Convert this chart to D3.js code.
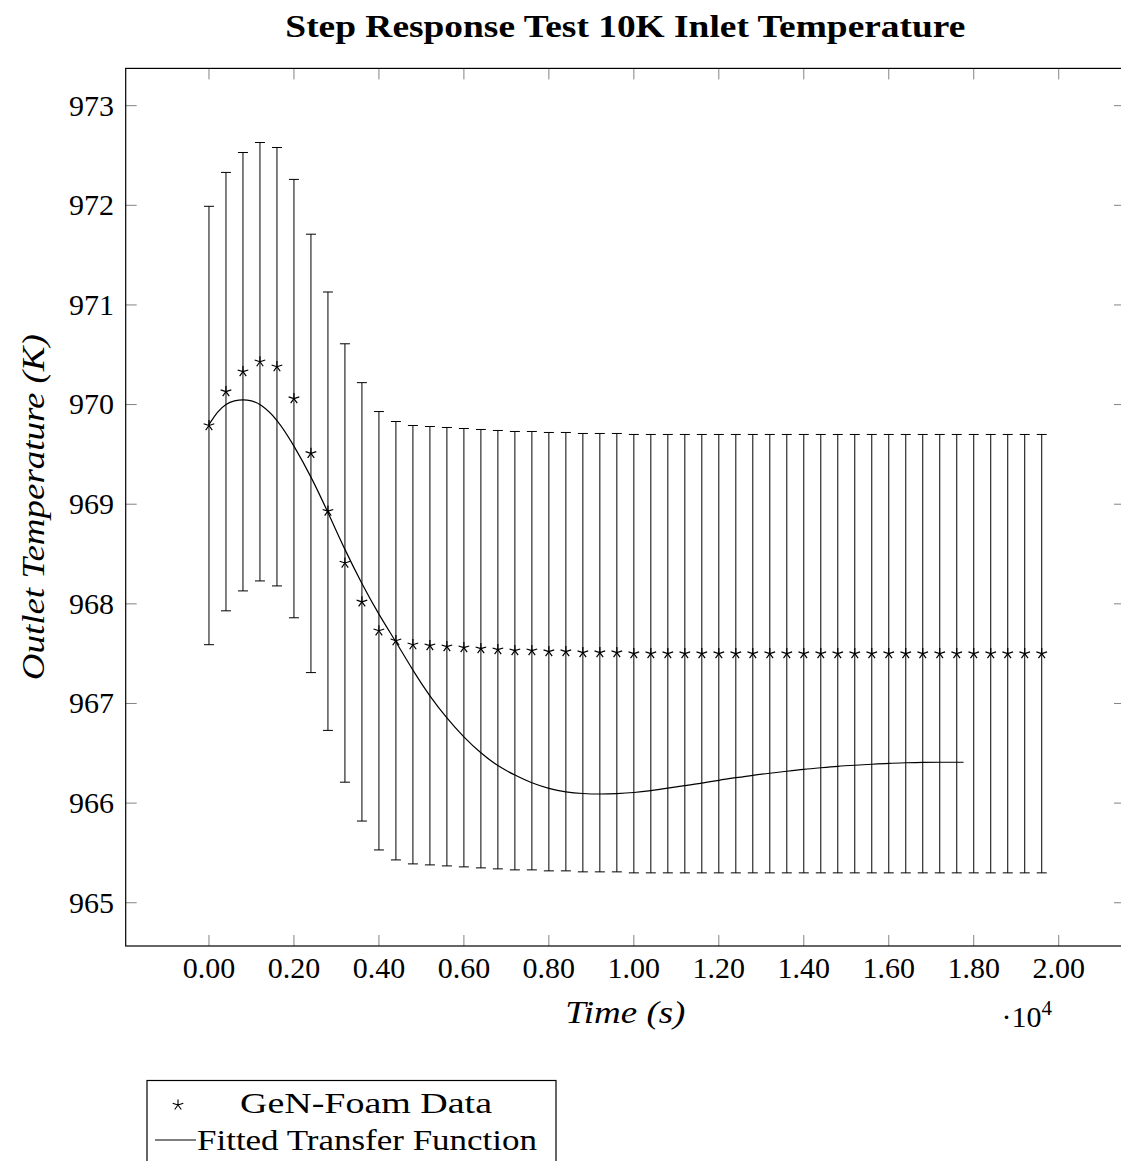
<!DOCTYPE html>
<html>
<head>
<meta charset="utf-8">
<script src="https://cdn.jsdelivr.net/npm/d3@7"></script>
<style>
  html, body { margin: 0; padding: 0; background: #fff; }
  svg { display: block; }
  text { font-family: "Liberation Serif", "DejaVu Serif", serif; fill: #000; }
</style>
</head>
<body>
<svg id="chart" width="1121" height="1161"></svg>
<script>
// Simulation output (time in seconds, outlet temperature in K)
const dataTimes = [0, 400, 800, 1200, 1600, 2000, 2400, 2800, 3200, 3600,
  4000, 4400, 4800, 5200, 5600, 6000, 6400, 6800, 7200, 7600,
  8000, 8400, 8800, 9200, 9600, 10000, 10400, 10800, 11200, 11600,
  12000, 12400, 12800, 13200, 13600, 14000, 14400, 14800, 15200, 15600,
  16000, 16400, 16800, 17200, 17600, 18000, 18400, 18800, 19200, 19600];
const dataTemps = [969.79, 970.13, 970.33, 970.43, 970.38, 970.06, 969.51, 968.93, 968.41, 968.02,
  967.73, 967.63, 967.59, 967.58, 967.57, 967.56, 967.55, 967.54, 967.53, 967.53,
  967.52, 967.52, 967.51, 967.51, 967.51, 967.50, 967.50, 967.50, 967.50, 967.50,
  967.50, 967.50, 967.50, 967.50, 967.50, 967.50, 967.50, 967.50, 967.50, 967.50,
  967.50, 967.50, 967.50, 967.50, 967.50, 967.50, 967.50, 967.50, 967.50, 967.50];
// Symmetric uncertainty of every data point (K)
const dataError = 2.2;

// Fitted transfer function response
const fitTimes = [0, 200, 400, 600, 800, 1000, 1200, 1600, 2000, 2400, 2800, 3200, 3600,
  4000, 4400, 4800, 5200, 5600, 6000, 6400, 6800, 7200, 7600,
  8000, 8400, 8800, 9200, 9600, 10000, 10400, 10800, 11200, 11600,
  12000, 12400, 12800, 13200, 13600, 14000, 14400, 14800, 15200, 15600,
  16000, 16400, 16800, 17200, 17600, 17760];
const fitTemps = [969.80, 969.93, 970.01, 970.04, 970.05, 970.04, 970.01, 969.86, 969.59, 969.28, 968.92, 968.54, 968.20,
  967.89, 967.62, 967.33, 967.07, 966.85, 966.66, 966.50, 966.37, 966.28, 966.20,
  966.145, 966.11, 966.095, 966.09, 966.095, 966.105, 966.125, 966.15, 966.175, 966.20,
  966.23, 966.255, 966.28, 966.30, 966.32, 966.34, 966.355, 966.37, 966.38, 966.39,
  966.40, 966.405, 966.41, 966.41, 966.41, 966.41];

const xTickValues = [0, 2000, 4000, 6000, 8000, 10000, 12000, 14000, 16000, 18000, 20000];
const yTickValues = [965, 966, 967, 968, 969, 970, 971, 972, 973];

const titleText = "Step Response Test 10K Inlet Temperature";
const xLabelText = "Time (s)";
const yLabelText = "Outlet Temperature (K)";
const legendLabels = ["GeN-Foam Data", "Fitted Transfer Function"];

const svg = d3.select("#chart");

const plot = { left: 125.7, right: 1125, top: 68.4, bottom: 946 };

const x = d3.scaleLinear().domain([-1960, 21560]).range([plot.left, plot.right]);
const y = d3.scaleLinear().domain([964.566, 973.374]).range([plot.bottom, plot.top]);

const tickLen = 11;
const fmtX = d => (d / 1e4).toFixed(2);

// Widen a text run to a given length (the serif face here is narrower than the design font)
function widen(sel, w) {
  return sel.attr("textLength", w).attr("lengthAdjust", "spacingAndGlyphs");
}

// Five-armed star marker
function starPath(r) {
  const angles = [90, 162, 234, 306, 18];
  return angles.map(a => {
    const t = a * Math.PI / 180;
    return `M0,0L${(r * Math.cos(t)).toFixed(3)},${(-r * Math.sin(t)).toFixed(3)}`;
  }).join("");
}

// Ticks (inward, mirrored on opposite sides)
const ticks = svg.append("g").attr("stroke", "#000").attr("stroke-width", 0.9).attr("stroke-opacity", 0.55);
xTickValues.forEach(v => {
  const px = x(v);
  ticks.append("line").attr("x1", px).attr("x2", px).attr("y1", plot.bottom).attr("y2", plot.bottom - tickLen);
  ticks.append("line").attr("x1", px).attr("x2", px).attr("y1", plot.top).attr("y2", plot.top + tickLen);
});
yTickValues.forEach(v => {
  const py = y(v);
  ticks.append("line").attr("x1", plot.left).attr("x2", plot.left + tickLen).attr("y1", py).attr("y2", py);
  ticks.append("line").attr("x1", plot.right).attr("x2", plot.right - tickLen).attr("y1", py).attr("y2", py);
});

// Tick labels
svg.append("g").selectAll("text").data(xTickValues).join("text")
  .attr("x", d => x(d)).attr("y", 978)
  .attr("text-anchor", "middle").attr("font-size", 30)
  .text(fmtX);
svg.append("g").selectAll("text").data(yTickValues).join("text")
  .attr("x", 114).attr("y", d => y(d)).attr("dy", "0.33em")
  .attr("text-anchor", "end").attr("font-size", 30)
  .text(d => d);

// Error bars
const pts = dataTimes.map((t, i) => ({ t, v: dataTemps[i] }));
const eb = svg.append("g").attr("stroke", "#000").attr("stroke-width", 1);
pts.forEach(p => {
  const px = x(p.t), y0 = y(p.v - dataError), y1 = y(p.v + dataError);
  eb.append("line").attr("x1", px).attr("x2", px).attr("y1", y0).attr("y2", y1);
  eb.append("line").attr("x1", px - 5).attr("x2", px + 5).attr("y1", y0).attr("y2", y0);
  eb.append("line").attr("x1", px - 5).attr("x2", px + 5).attr("y1", y1).attr("y2", y1);
});

// Fitted curve
const line = d3.line().x(d => x(d[0])).y(d => y(d[1])).curve(d3.curveBasis);
svg.append("path")
  .datum(fitTimes.map((t, i) => [t, fitTemps[i]]))
  .attr("d", line)
  .attr("fill", "none").attr("stroke", "#000").attr("stroke-width", 1.2);

// Data markers
const star = starPath(5.6);
svg.append("g").selectAll("path").data(pts).join("path")
  .attr("transform", d => `translate(${x(d.t)},${y(d.v)})`)
  .attr("d", star).attr("fill", "none").attr("stroke", "#000").attr("stroke-width", 1.2);

// Axis frame
svg.append("rect")
  .attr("x", plot.left).attr("y", plot.top)
  .attr("width", plot.right - plot.left).attr("height", plot.bottom - plot.top)
  .attr("fill", "none").attr("stroke", "#000").attr("stroke-width", 1.2);

const cx = (plot.left + plot.right) / 2;

// Title
widen(svg.append("text")
  .attr("x", cx).attr("y", 37).attr("text-anchor", "middle")
  .attr("font-size", 32).attr("font-weight", "bold")
  .text(titleText), 680);

// Axis labels
widen(svg.append("text")
  .attr("x", cx).attr("y", 1023).attr("text-anchor", "middle")
  .attr("font-size", 31).attr("font-style", "italic")
  .text(xLabelText), 120);
widen(svg.append("text")
  .attr("transform", `translate(44,${(plot.top + plot.bottom) / 2}) rotate(-90)`)
  .attr("text-anchor", "middle")
  .attr("font-size", 31).attr("font-style", "italic")
  .text(yLabelText), 346);

// Scale factor for the time axis
const sf = svg.append("text").attr("x", 1052).attr("y", 1027).attr("text-anchor", "end").attr("font-size", 30);
sf.append("tspan").text("\u00B710");
sf.append("tspan").attr("font-size", 21).attr("dy", -12).text("4");

// Legend
const lg = svg.append("g");
lg.append("rect").attr("x", 147).attr("y", 1080.5).attr("width", 409).attr("height", 100)
  .attr("fill", "#fff").attr("stroke", "#000").attr("stroke-width", 1.2);
lg.append("path").attr("transform", "translate(178,1105)").attr("d", star)
  .attr("fill", "none").attr("stroke", "#000").attr("stroke-width", 1.1);
lg.append("line").attr("x1", 155).attr("x2", 196).attr("y1", 1140).attr("y2", 1140)
  .attr("stroke", "#000").attr("stroke-width", 1.2);
widen(lg.append("text").attr("x", 366).attr("y", 1113).attr("text-anchor", "middle").attr("font-size", 30).text(legendLabels[0]), 252);
widen(lg.append("text").attr("x", 367).attr("y", 1150).attr("text-anchor", "middle").attr("font-size", 30).text(legendLabels[1]), 340);
</script>
</body>
</html>
